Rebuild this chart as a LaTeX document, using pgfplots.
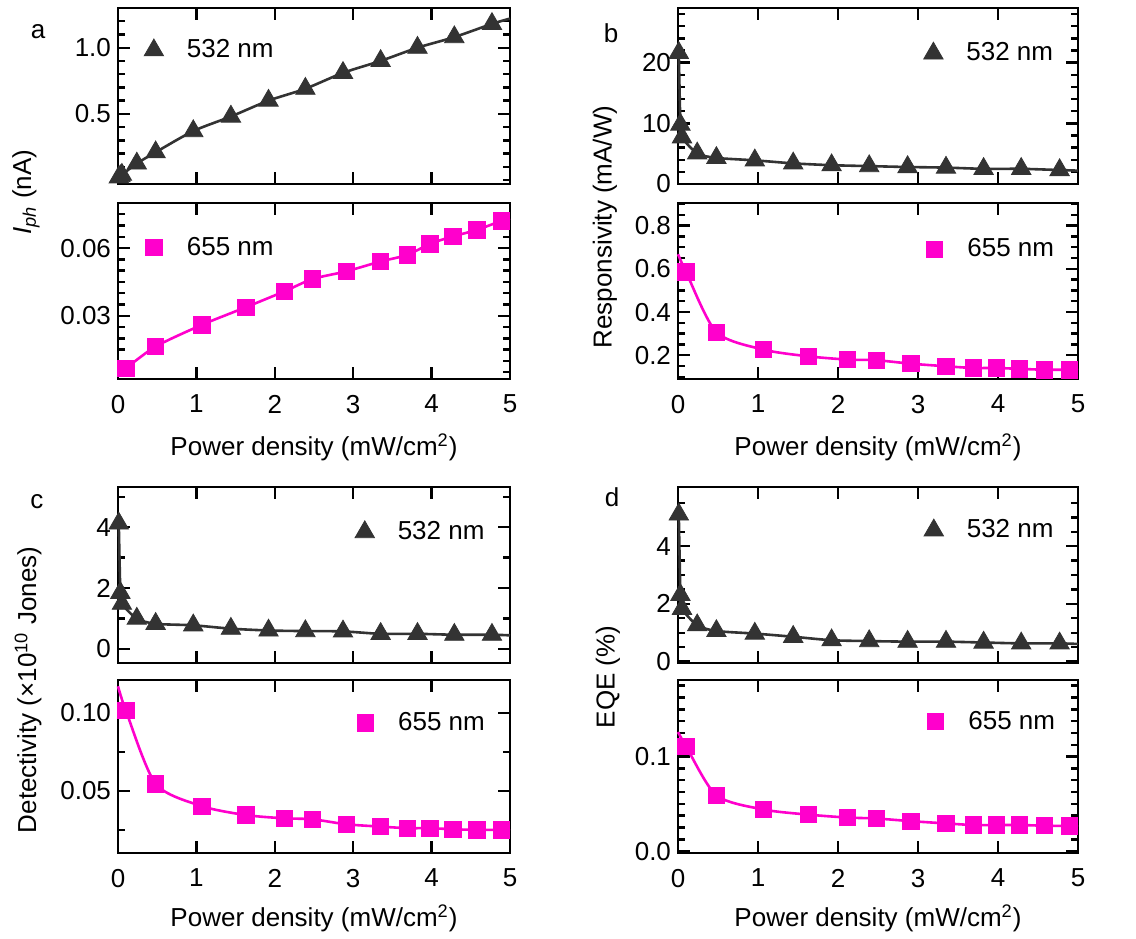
\documentclass[border=0pt]{standalone}
\usepackage{pgfplots}
\pgfplotsset{compat=1.18}
\usepackage{fontspec}
\setmainfont{Liberation Sans}
\definecolor{dk}{RGB}{51,51,51}
\definecolor{mg}{RGB}{255,0,204}
\newcommand{\fs}{\fontsize{13}{15.5}\selectfont}
\pgfplotsset{
  panel/.style={
    scale only axis, xmin=0, xmax=5, xtick={0,1,2,3,4,5},
    tick align=inside, clip=false, scaled y ticks=false, scaled x ticks=false,
    axis line style={line width=1.4pt},
    every tick/.style={line width=1.2pt, black},
    major tick length=6pt, minor tick length=3.5pt,
    /pgf/number format/assume math mode=true,
    ticklabel style={font=\fs},
    xticklabel style={yshift=-4.5pt},
    legend cell align=left,
    legend style={draw=none, fill=none, inner sep=0pt, anchor=west,
      nodes={inner sep=1pt, font=\fs}},
  },
  toppanel/.style={panel, xticklabels={}},
  yfmt/.style={yticklabel style={/pgf/number format/fixed, /pgf/number format/fixed zerofill, /pgf/number format/precision=#1}},
  s532/.style={only marks, mark=triangle*, mark size=5.6pt, color=dk,
    legend image code/.code={\draw[##1] plot coordinates {(0pt,0pt)}; \path[draw=none,fill=none] (-5pt,-1pt) rectangle (15.5pt,1pt);}},
  s655/.style={only marks, mark=square*, mark size=4.1pt, color=mg,
    legend image code/.code={\draw[##1] plot coordinates {(0pt,0pt)}; \path[draw=none,fill=none] (-5pt,-1pt) rectangle (15.5pt,1pt);}},
  f532/.style={dk, line width=1.3pt, smooth, tension=0.45, no marks, forget plot},
  f655/.style={mg, line width=1.3pt, smooth, tension=0.45, no marks, forget plot},
}
\begin{document}
\begin{tikzpicture}
\useasboundingbox (0,0) rectangle (568pt,-469pt);
% ---------- a top
\begin{axis}[toppanel, at={(59pt,-92pt)}, anchor=south west, width=196pt, height=88pt,
  ymin=-0.03, ymax=1.30, ytick={0.5,1.0}, minor ytick={0,0.1,0.2,0.3,0.4,0.6,0.7,0.8,0.9,1.1,1.2},
  yfmt=1,
  legend style={at={(0.065,0.76)}}]
\addplot[f532] coordinates {(0.01,0.02)(0.05,0.04)(0.24,0.125)(0.48,0.21)(0.96,0.37)(1.44,0.48)(1.92,0.60)(2.39,0.69)(2.87,0.81)(3.35,0.90)(3.82,1.00)(4.29,1.08)(4.77,1.18)(5,1.22)};
\addplot[s532] coordinates {(0.01,0.02)(0.03,0.03)(0.05,0.04)(0.24,0.125)(0.48,0.21)(0.96,0.37)(1.44,0.48)(1.92,0.60)(2.39,0.69)(2.87,0.81)(3.35,0.90)(3.82,1.00)(4.29,1.08)(4.77,1.18)};
\addlegendentry{532 nm}
\end{axis}
% ---------- a bottom
\begin{axis}[panel, at={(59pt,-189.5pt)}, anchor=south west, width=196pt, height=88pt,
  ymin=0.002, ymax=0.080, ytick={0.03,0.06},
  minor ytick={0.005,0.01,0.015,0.02,0.025,0.035,0.04,0.045,0.05,0.055,0.065,0.07,0.075},
  yfmt=2,
  legend style={at={(0.065,0.747)}}]
\addplot[f655] coordinates {(0,0.0053)(0.10,0.0068)(0.48,0.0164)(1.07,0.026)(1.63,0.0338)(2.12,0.0408)(2.48,0.0463)(2.91,0.0497)(3.35,0.0541)(3.69,0.057)(3.98,0.0619)(4.27,0.0652)(4.58,0.0681)(4.89,0.0721)(5,0.0731)};
\addplot[s655] coordinates {(0.10,0.0068)(0.48,0.0164)(1.07,0.026)(1.63,0.0338)(2.12,0.0408)(2.48,0.0463)(2.91,0.0497)(3.35,0.0541)(3.69,0.057)(3.98,0.0619)(4.27,0.0652)(4.58,0.0681)(4.89,0.0721)};
\addlegendentry{655 nm}
\end{axis}
% ---------- b top
\begin{axis}[toppanel, at={(339pt,-92pt)}, anchor=south west, width=200pt, height=88pt,
  ymin=0, ymax=29, ytick={0,10,20}, minor ytick={2,4,6,8,12,14,16,18,22,24,26,28},
  legend style={at={(0.6125,0.742)}}]
\addplot[f532] coordinates {(0.01,21.6)(0.03,9.8)(0.05,7.7)(0.24,5.05)(0.48,4.3)(0.96,3.9)(1.44,3.4)(1.92,3.1)(2.39,2.95)(2.87,2.8)(3.35,2.7)(3.82,2.5)(4.29,2.5)(4.77,2.3)(5,2.2)};
\addplot[s532] coordinates {(0.01,21.6)(0.03,9.8)(0.05,7.7)(0.24,5.05)(0.48,4.3)(0.96,3.9)(1.44,3.4)(1.92,3.1)(2.39,2.95)(2.87,2.8)(3.35,2.7)(3.82,2.5)(4.29,2.5)(4.77,2.3)};
\addlegendentry{532 nm}
\end{axis}
% ---------- b bottom
\begin{axis}[panel, at={(339pt,-189.5pt)}, anchor=south west, width=200pt, height=88pt,
  ymin=0.09, ymax=0.905, ytick={0.2,0.4,0.6,0.8},
  minor ytick={0.1,0.15,0.25,0.3,0.35,0.45,0.5,0.55,0.65,0.7,0.75,0.85,0.9},
  yfmt=1,
  legend style={at={(0.615,0.738)}}]
\addplot[f655] coordinates {(0,0.668)(0.10,0.586)(0.48,0.307)(1.07,0.226)(1.63,0.195)(2.12,0.18)(2.48,0.177)(2.91,0.161)(3.35,0.149)(3.69,0.141)(3.98,0.141)(4.27,0.137)(4.58,0.133)(4.89,0.133)(5,0.132)};
\addplot[s655] coordinates {(0.10,0.586)(0.48,0.307)(1.07,0.226)(1.63,0.195)(2.12,0.18)(2.48,0.177)(2.91,0.161)(3.35,0.149)(3.69,0.141)(3.98,0.141)(4.27,0.137)(4.58,0.133)(4.89,0.133)};
\addlegendentry{655 nm}
\end{axis}
% ---------- c top
\begin{axis}[toppanel, at={(59pt,-331.5pt)}, anchor=south west, width=196pt, height=88pt,
  ymin=-0.47, ymax=5.32, ytick={0,2,4}, minor ytick={1,3,5},
  legend style={at={(0.603,0.744)}}]
\addplot[f532] coordinates {(0.01,4.12)(0.03,1.84)(0.05,1.48)(0.24,0.99)(0.48,0.82)(0.96,0.77)(1.44,0.66)(1.92,0.60)(2.39,0.58)(2.87,0.57)(3.35,0.49)(3.82,0.49)(4.29,0.46)(4.77,0.46)(5,0.44)};
\addplot[s532] coordinates {(0.01,4.12)(0.03,1.84)(0.05,1.48)(0.24,0.99)(0.48,0.82)(0.96,0.77)(1.44,0.66)(1.92,0.60)(2.39,0.58)(2.87,0.57)(3.35,0.49)(3.82,0.49)(4.29,0.46)(4.77,0.46)};
\addlegendentry{532 nm}
\end{axis}
% ---------- c bottom
\begin{axis}[panel, at={(59pt,-426.5pt)}, anchor=south west, width=196pt, height=86.5pt,
  ymin=0.0103, ymax=0.121, ytick={0.05,0.10}, minor ytick={0.025,0.075},
  yfmt=2,
  legend style={at={(0.604,0.752)}}]
\addplot[f655] coordinates {(0,0.117)(0.10,0.1015)(0.48,0.0546)(1.07,0.0403)(1.63,0.0346)(2.12,0.0325)(2.48,0.0319)(2.91,0.0287)(3.35,0.0272)(3.69,0.0262)(3.98,0.0262)(4.27,0.0255)(4.58,0.0251)(4.89,0.0251)(5,0.0248)};
\addplot[s655] coordinates {(0.10,0.1015)(0.48,0.0546)(1.07,0.0403)(1.63,0.0346)(2.12,0.0325)(2.48,0.0319)(2.91,0.0287)(3.35,0.0272)(3.69,0.0262)(3.98,0.0262)(4.27,0.0255)(4.58,0.0251)(4.89,0.0251)};
\addlegendentry{655 nm}
\end{axis}
% ---------- d top
\begin{axis}[toppanel, at={(339pt,-331.5pt)}, anchor=south west, width=200pt, height=88pt,
  ymin=-0.05, ymax=6.05, ytick={0,2,4}, minor ytick={0.5,1,1.5,2.5,3,3.5,4.5,5,5.5},
  legend style={at={(0.6135,0.754)}}]
\addplot[f532] coordinates {(0.01,5.1)(0.03,2.31)(0.05,1.83)(0.24,1.26)(0.48,1.06)(0.96,0.97)(1.44,0.86)(1.92,0.74)(2.39,0.71)(2.87,0.69)(3.35,0.69)(3.82,0.66)(4.29,0.63)(4.77,0.63)(5,0.61)};
\addplot[s532] coordinates {(0.01,5.1)(0.03,2.31)(0.05,1.83)(0.24,1.26)(0.48,1.06)(0.96,0.97)(1.44,0.86)(1.92,0.74)(2.39,0.71)(2.87,0.69)(3.35,0.69)(3.82,0.66)(4.29,0.63)(4.77,0.63)};
\addlegendentry{532 nm}
\end{axis}
% ---------- d bottom
\begin{axis}[panel, at={(339pt,-426.5pt)}, anchor=south west, width=200pt, height=86.5pt,
  ymin=-0.002, ymax=0.181, ytick={0,0.1},
  minor ytick={0.0125,0.025,0.0375,0.05,0.0625,0.075,0.0875,0.1125,0.125,0.1375,0.15,0.1625,0.175},
  yfmt=1,
  legend style={at={(0.6175,0.76)}}]
\addplot[f655] coordinates {(0,0.126)(0.10,0.111)(0.48,0.059)(1.07,0.044)(1.63,0.0386)(2.12,0.0355)(2.48,0.0345)(2.91,0.0317)(3.35,0.0293)(3.69,0.0276)(3.98,0.0276)(4.27,0.0276)(4.58,0.0269)(4.89,0.0266)(5,0.026)};
\addplot[s655] coordinates {(0.10,0.111)(0.48,0.059)(1.07,0.044)(1.63,0.0386)(2.12,0.0355)(2.48,0.0345)(2.91,0.0317)(3.35,0.0293)(3.69,0.0276)(3.98,0.0276)(4.27,0.0276)(4.58,0.0269)(4.89,0.0266)};
\addlegendentry{655 nm}
\end{axis}
% ---------- labels
\node[font=\fs] at (157pt,-223.5pt) {Power density (mW/cm\textsuperscript{2})};
\node[font=\fs] at (439pt,-223.5pt) {Power density (mW/cm\textsuperscript{2})};
\node[font=\fs] at (157pt,-459pt) {Power density (mW/cm\textsuperscript{2})};
\node[font=\fs] at (439pt,-459pt) {Power density (mW/cm\textsuperscript{2})};
\node[font=\fs, rotate=90] at (13pt,-96pt) {{\itshape I}\textsubscript{\itshape ph} (nA)};
\node[font=\fs, rotate=90] at (302.5pt,-113.5pt) {Responsivity (mA/W)};
\node[font=\fs, rotate=90] at (14pt,-345pt) {Detectivity (×10\textsuperscript{10} Jones)};
\node[font=\fs, rotate=90] at (304pt,-338.5pt) {EQE (\%)};
\node[font=\fs] at (19pt,-16pt) {a};
\node[font=\fs] at (305.5pt,-16.5pt) {b};
\node[font=\fs] at (18.5pt,-251pt) {c};
\node[font=\fs] at (306pt,-248.5pt) {d};
\end{tikzpicture}
\end{document}
